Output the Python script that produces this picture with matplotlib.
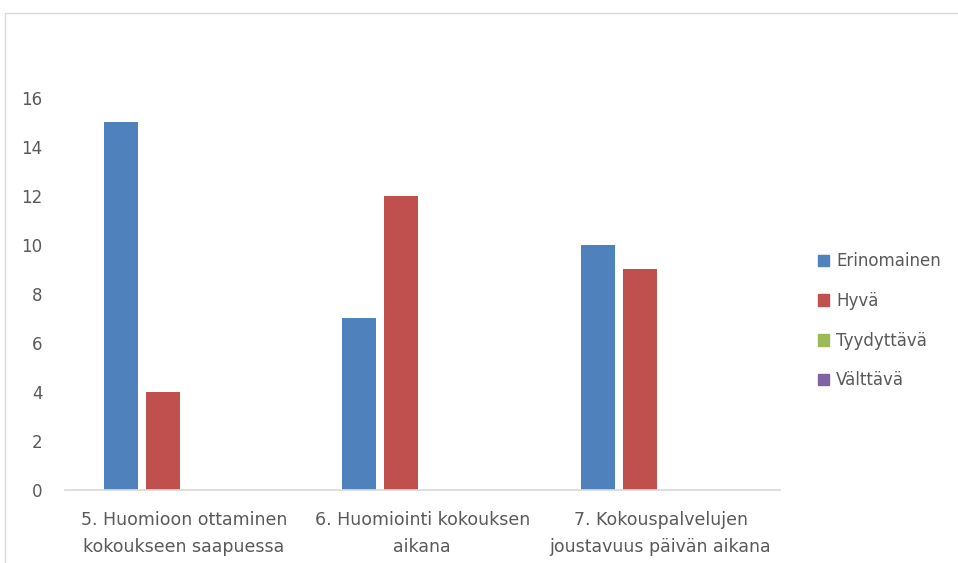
import numpy as np
import matplotlib
matplotlib.use('Agg')
import matplotlib.pyplot as plt
from matplotlib.lines import Line2D

plt.rcParams['font.family'] = ['Liberation Sans Narrow', 'DejaVu Sans']

categories = ['5. Huomioon ottaminen\nkokoukseen saapuessa',
              '6. Huomiointi kokouksen\naikana',
              '7. Kokouspalvelujen\njoustavuus päivän aikana']
series_names = ['Erinomainen', 'Hyvä', 'Tyydyttävä', 'Välttävä']
erinomainen = [15, 7, 10]
hyva = [4, 12, 9]
tyydyttava = [0, 0, 0]
valttava = [0, 0, 0]
colors = ['#4F81BD', '#C0504D', '#9BBB59', '#8064A2']
yticks = [0, 2, 4, 6, 8, 10, 12, 14, 16]

text_col = '#595959'

fig = plt.figure(figsize=(9.58, 5.63), dpi=100)
ax = fig.add_axes([0.0678, 0.1297, 0.746, 0.6963])

x = np.arange(len(categories))
w = 0.143
step = 0.176
for i, (name, vals) in enumerate(zip(series_names, [erinomainen, hyva, tyydyttava, valttava])):
    off = (i - 1.5) * step
    ax.bar(x + off, vals, width=w, color=colors[i], label=name)

ax.set_xlim(-0.5, 2.5)
ax.set_ylim(0, 16)
ax.set_yticks(yticks)
ax.set_xticks(x)
ax.set_xticklabels(categories, fontsize=12.5, color=text_col, linespacing=1.65)
ax.tick_params(axis='y', length=0, pad=16, labelsize=12, labelcolor=text_col)
ax.tick_params(axis='x', length=0, pad=15)
for s in ['top', 'right', 'left']:
    ax.spines[s].set_visible(False)
ax.spines['bottom'].set_color('#D9D9D9')
ax.spines['bottom'].set_linewidth(1.2)

handles = [plt.Rectangle((0, 0), 1, 1, color=c) for c in colors]
leg = fig.legend(handles, series_names, loc='center left', bbox_to_anchor=(0.838, 0.43),
                 frameon=False, fontsize=12, handlelength=0.7, handleheight=0.7,
                 handletextpad=0.4, labelspacing=1.3)
for t in leg.get_texts():
    t.set_color(text_col)

# chart border (left and top visible)
x0 = 5 / 958
y0 = 1 - 13 / 563
fig.add_artist(Line2D([x0, x0, 1], [0, y0, y0], transform=fig.transFigure,
                      color='#D9D9D9', linewidth=1))

fig.savefig('out.png', dpi=100)
